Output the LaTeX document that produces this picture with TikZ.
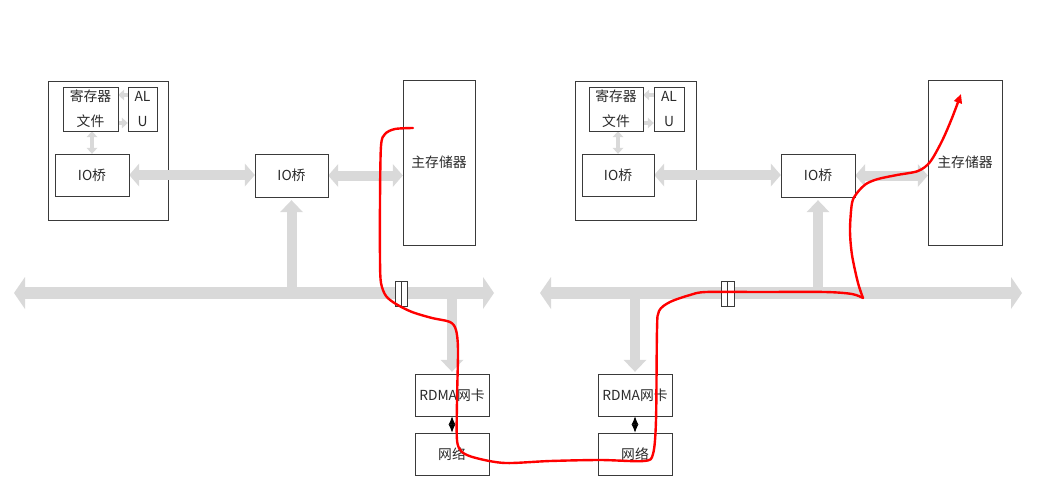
\documentclass[tikz,border=0pt]{standalone}
\usepackage{fontspec}
\setmainfont{Noto Sans CJK SC}
\usetikzlibrary{arrows.meta}
\definecolor{garr}{HTML}{D9D9D9}
\definecolor{edge}{HTML}{3A3A3A}
\definecolor{txt}{HTML}{2A2A2A}
\begin{document}
\begin{tikzpicture}[x=1pt,y=-1pt,
  outerbox/.style={draw=edge, line width=0.9pt},
  box/.style={draw=edge, line width=0.9pt, fill=white, inner sep=0pt, text=txt,
    font=\fontsize{13.8}{25}\selectfont, align=center},
  ghost/.style={inner sep=0pt},
  busarrow/.style={draw=garr, line width=12pt,
    arrows={Triangle[length=11pt,width=32pt,line width=0pt]-Triangle[length=11pt,width=32pt,line width=0pt]}},
  midarrow/.style={draw=garr, line width=10pt},
  midtip/.style={arrows={-Triangle[length=12pt,width=23pt,line width=0pt]}},
  midtips/.style={arrows={Triangle[length=10pt,width=23pt,line width=0pt]-Triangle[length=10pt,width=23pt,line width=0pt]}},
  smallarrow/.style={draw=garr, line width=4.5pt},
  smalltip/.style={arrows={-Triangle[length=6pt,width=11pt,line width=0pt]}},
  smalltips/.style={arrows={Triangle[length=6pt,width=11pt,line width=0pt]-Triangle[length=6pt,width=11pt,line width=0pt]}},
  linkarrow/.style={draw=black, line width=1pt,
    arrows={Latex[length=8.5pt,width=7pt]-Latex[length=8.5pt,width=7pt]}},
  barsym/.style={draw=edge, line width=0.8pt, fill=white},
  redpath/.style={draw=red, line width=2.4pt, line cap=round, line join=round}
]
\useasboundingbox (0,0) rectangle (1038,492);

% ---------- outer CPU boxes
\node[outerbox, minimum width=120pt, minimum height=139pt] (outerL) at (108,150.5) {};
\node[outerbox, minimum width=121pt, minimum height=139pt] (outerR) at (635.5,150.5) {};

% ---------- node frames (invisible, used for connector ends)
\foreach \n/\x/\y/\w/\h in {
  regL/90.5/109/55/44, aluL/142.5/109/29/44, ioinL/92/175/74/42,
  iomidL/291.5/175.5/73/43, memL/439/162.5/72/165, rdmaL/452/395/74/42, netL/452/454/74/42,
  regR/616/109/54/44, aluR/669/109/30/44, ioinR/618/175/72/42,
  iomidR/818/175.5/74/43, memR/965/162.5/74/165, rdmaR/635/395/74/42, netR/635/454/74/42}{
  \node[ghost, minimum width=\w pt, minimum height=\h pt] (\n) at (\x,\y) {};
}

% bus end points
\coordinate (busLw) at (14,293);
\coordinate (busLe) at (494,293);
\coordinate (busRw) at (540,293);
\coordinate (busRe) at (1022,293);

% ---------- gray arrows
\foreach \s in {L,R}{
  \draw[busarrow] (bus\s w) -- (bus\s e);
  \draw[midarrow, midtips] (ioin\s.east) -- (ioin\s.east -| iomid\s.west);
  \draw[midarrow, midtips] (iomid\s.east) -- (iomid\s.east -| mem\s.west);
  \draw[midarrow, midtip, shorten >=3pt] (iomid\s.south |- bus\s w) -- (iomid\s.south);
  \draw[midarrow, midtip, shorten >=2pt] (rdma\s.north |- bus\s w) -- (rdma\s.north);
  \draw[smallarrow, smalltip] ([yshift=-14pt]reg\s.east) -- ([yshift=-14pt]alu\s.west);
  \draw[smallarrow, smalltip] ([yshift=14pt]alu\s.west) -- ([yshift=14pt]reg\s.east);
  \draw[smallarrow, smalltips] (reg\s.south -| ioin\s.north) -- (ioin\s.north);
  \draw[linkarrow] (rdma\s.south) -- (net\s.north);
}

% ---------- visible boxes with their texts
\foreach \n/\t/\w/\h in {regL/{寄存器\\文件}/55/44, aluL/{AL\\U}/29/44, ioinL/{IO桥}/74/42,
  iomidL/{IO桥}/73/43, memL/{主存储器}/72/165, rdmaL/{RDMA网卡}/74/42, netL/{网络}/74/42,
  regR/{寄存器\\文件}/54/44, aluR/{AL\\U}/30/44, ioinR/{IO桥}/72/42,
  iomidR/{IO桥}/74/43, memR/{主存储器}/74/165, rdmaR/{RDMA网卡}/74/42, netR/{网络}/74/42}{
  \node[box, minimum width=\w pt, minimum height=\h pt] at (\n) {\t};
}

% ---------- double-bar symbols on the buses
\draw[barsym] (395,281) rectangle (401,306);
\draw[barsym] (401,281) rectangle (407,306);
\draw[barsym] (721,281) rectangle (727.5,306);
\draw[barsym] (727.5,281) rectangle (734,306);

% ---------- red hand-drawn data path
\draw[redpath] plot[smooth, tension=0.5] coordinates {
  (413,128) (395,129) (385,134) (381,146) (380,200) (380,260) (381,283)
  (386,296) (396,304) (412,312) (432,318) (450,322) (456,330) (458,350)
  (457,400) (457,440) (462,452) (476,458) (505,463) (550,461) (600,460)
  (644,461) (653,454) (656,420) (657,330) (659,311) (670,302) (690,295)
  (706,292) (760,292) (825,292) (852,294) (863,298)};
\draw[redpath, -{Triangle[length=9pt,width=8pt]}] plot[smooth, tension=0.5] coordinates {
  (863,298) (858,283) (852,255) (850,230) (852,203) (857,193) (866,184)
  (878,179) (897,175) (918,171) (930,162) (942,141) (952,118) (961,94)};
\end{tikzpicture}
\end{document}
